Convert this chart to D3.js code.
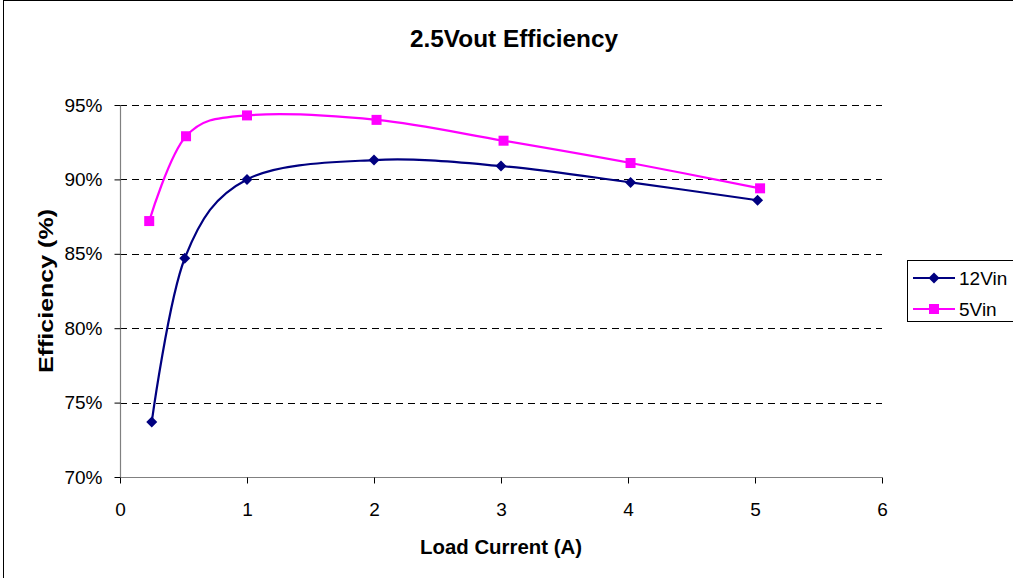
<!DOCTYPE html>
<html><head><meta charset="utf-8">
<script src="https://cdn.jsdelivr.net/npm/d3@7"></script>
<style>body{margin:0;background:#fff}svg{display:block}text{font-family:"Liberation Sans",Arial,sans-serif}</style>
</head><body><svg id="c" width="1013" height="578"></svg>
<script>
const yTicks = [0.70, 0.75, 0.80, 0.85, 0.90, 0.95];
const xTicks = [0, 1, 2, 3, 4, 5, 6];
const x12 = [0.25, 0.51, 1.0, 2.0, 3.0, 4.02, 5.02];
const y12 = [0.737, 0.847, 0.900, 0.913, 0.909, 0.898, 0.886];
const x5 = [0.23, 0.52, 1.0, 2.02, 3.02, 4.02, 5.04];
const y5 = [0.872, 0.929, 0.943, 0.940, 0.926, 0.911, 0.894];
const seriesNames = ["12Vin", "5Vin"];
const colors = ["#000080", "#FF00FF"];

const svg = d3.select("#c");
const L = 120, R = 882, T = 105, B = 477;
const x = d3.scaleLinear().domain([0, 6]).range([L, R]);
const y = d3.scaleLinear().domain([0.70, 0.95]).range([B, T]);

svg.append("rect").attr("x", 3.5).attr("y", 0.5).attr("width", 1020).attr("height", 590)
  .attr("fill", "none").attr("stroke", "#000").attr("stroke-width", 1);

// grid
svg.append("g").selectAll("line").data(yTicks.slice(1)).join("line")
  .attr("x1", L).attr("x2", R).attr("y1", d => Math.round(y(d)) + 0.5).attr("y2", d => Math.round(y(d)) + 0.5)
  .attr("stroke", "#000").attr("stroke-dasharray", "7,5").attr("stroke-width", 1);

// axes
const yAxis = d3.axisLeft(y).tickValues(yTicks).tickFormat(d3.format(".0%")).tickSize(6).tickPadding(12);
const gy = svg.append("g").attr("transform", `translate(${L + 0.5},0)`).call(yAxis);
const xAxis = d3.axisBottom(x).tickValues(xTicks).tickFormat(d3.format("d")).tickSize(6).tickPadding(19);
const gx = svg.append("g").attr("transform", `translate(0,${B + 0.5})`).call(xAxis);
[gy, gx].forEach(g => {
  g.select(".domain").attr("stroke", "#808080").attr("stroke-width", 1.2);
  g.selectAll(".tick line").attr("stroke", "#000");
  g.selectAll(".tick text").style("font-size", "19px").attr("fill", "#000");
});
gy.select(".domain").attr("d", `M0,${T}V${B}`);
gx.select(".domain").attr("d", `M${L},0H${R}`);

// lines
const line = d3.line().x(d => x(d[0])).y(d => y(d[1])).curve(d3.curveCardinal.tension(0));
const data = [d3.zip(x12, y12), d3.zip(x5, y5)];
data.forEach((pts, i) => {
  svg.append("path").datum(pts).attr("d", line).attr("fill", "none")
    .attr("stroke", colors[i]).attr("stroke-width", 2.2);
});
// markers
svg.append("g").selectAll("path").data(data[0]).join("path")
  .attr("transform", d => `translate(${x(d[0])},${y(d[1])})`)
  .attr("d", "M0,-5.5L5.5,0L0,5.5L-5.5,0Z").attr("fill", colors[0]);
svg.append("g").selectAll("rect").data(data[1]).join("rect")
  .attr("x", d => x(d[0]) - 5).attr("y", d => y(d[1]) - 5).attr("width", 10).attr("height", 10)
  .attr("fill", colors[1]);

// titles
svg.append("text").attr("x", 514).attr("y", 47).attr("text-anchor", "middle")
  .attr("font-size", 23).attr("font-weight", "bold")
  .attr("textLength", 208).attr("lengthAdjust", "spacingAndGlyphs").text("2.5Vout Efficiency");
svg.append("text").attr("x", 501).attr("y", 554).attr("text-anchor", "middle")
  .attr("font-size", 21).attr("font-weight", "bold")
  .attr("textLength", 162).attr("lengthAdjust", "spacingAndGlyphs").text("Load Current (A)");
svg.append("text").attr("transform", "translate(53,291) rotate(-90)").attr("text-anchor", "middle")
  .attr("font-size", 21).attr("font-weight", "bold")
  .attr("textLength", 164).attr("lengthAdjust", "spacingAndGlyphs").text("Efficiency (%)");

// legend
const lg = svg.append("g");
lg.append("rect").attr("x", 907.5).attr("y", 260.5).attr("width", 120).attr("height", 61)
  .attr("fill", "#fff").attr("stroke", "#000");
seriesNames.forEach((n, i) => {
  const yy = 278 + i * 31;
  lg.append("line").attr("x1", 913).attr("x2", 955).attr("y1", yy).attr("y2", yy)
    .attr("stroke", colors[i]).attr("stroke-width", 2.2);
  if (i === 0) lg.append("path").attr("transform", `translate(934,${yy})`).attr("d", "M0,-5.5L5.5,0L0,5.5L-5.5,0Z").attr("fill", colors[i]);
  else lg.append("rect").attr("x", 929).attr("y", yy - 5).attr("width", 10).attr("height", 10).attr("fill", colors[i]);
  lg.append("text").attr("x", 959).attr("y", yy + 7).attr("font-size", 19).text(n);
});
</script></body></html>
